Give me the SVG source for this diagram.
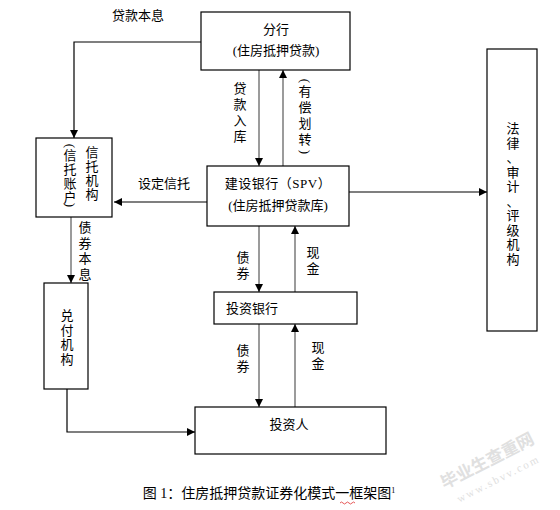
<svg xmlns="http://www.w3.org/2000/svg" width="560" height="510" viewBox="0 0 560 510">
<defs>
<style>
.box{fill:#fff;stroke:#000;stroke-width:1.2}
.t{font-family:"Liberation Serif","Noto Sans CJK SC",serif;font-size:13px;fill:#000;text-anchor:middle}
.k{stroke:#000;stroke-width:1.2;fill:none}
.g{stroke:#7a7a7a;stroke-width:1.5;fill:none}
.wm{font-family:"Noto Sans CJK SC",sans-serif;fill:#e0e0e0;text-anchor:middle}
</style>
<marker id="ah" viewBox="0 0 10 10" refX="10" refY="5" markerWidth="8" markerHeight="8" markerUnits="userSpaceOnUse" orient="auto">
<path d="M0,0 L10,5 L0,10 Z" fill="#000"/>
</marker>
</defs>
<rect width="560" height="510" fill="#fff"/>

<g id="connectors">
<polyline class="k" points="201,42 74,42 74,138" marker-end="url(#ah)"/>
<line class="g" x1="259" y1="70" x2="259" y2="166" marker-end="url(#ah)"/>
<line class="g" x1="283" y1="166" x2="283" y2="70" marker-end="url(#ah)"/>
<line class="k" x1="207" y1="202" x2="114" y2="202" marker-end="url(#ah)"/>
<line class="k" x1="349" y1="192" x2="487" y2="192" marker-end="url(#ah)"/>
<line class="g" x1="259" y1="226" x2="259" y2="292" marker-end="url(#ah)"/>
<line class="g" x1="295" y1="292" x2="295" y2="226" marker-end="url(#ah)"/>
<line class="g" x1="259" y1="324" x2="259" y2="407" marker-end="url(#ah)"/>
<line class="g" x1="295" y1="407" x2="295" y2="324" marker-end="url(#ah)"/>
<line class="g" x1="71" y1="217" x2="71" y2="283" marker-end="url(#ah)"/>
<polyline class="k" points="67,389 67,432 195,432" marker-end="url(#ah)"/>
</g>

<g id="labels">
<text class="t" x="138" y="20">贷款本息</text>
<text class="t" x="240" y="93"><tspan x="240">贷</tspan><tspan x="240" dy="16">款</tspan><tspan x="240" dy="16">入</tspan><tspan x="240" dy="16">库</tspan></text>
<text class="t" x="305" y="85" transform="rotate(90 305 81)">(</text>
<text class="t" x="305" y="96"><tspan x="305">有</tspan><tspan x="305" dy="16">偿</tspan><tspan x="305" dy="16">划</tspan><tspan x="305" dy="16">转</tspan></text>
<text class="t" x="305" y="156" transform="rotate(90 305 152)">)</text>
<text class="t" x="164" y="188">设定信托</text>
<text class="t" x="85" y="232"><tspan x="85">债</tspan><tspan x="85" dy="15.5">券</tspan><tspan x="85" dy="15.5">本</tspan><tspan x="85" dy="15.5">息</tspan></text>
<text class="t" x="243" y="262"><tspan x="243">债</tspan><tspan x="243" dy="15.5">券</tspan></text>
<text class="t" x="313" y="257"><tspan x="313">现</tspan><tspan x="313" dy="15.5">金</tspan></text>
<text class="t" x="243" y="355"><tspan x="243">债</tspan><tspan x="243" dy="16">券</tspan></text>
<text class="t" x="318" y="352"><tspan x="318">现</tspan><tspan x="318" dy="16">金</tspan></text>
</g>

<g id="node-fenhang">
<rect class="box" x="201" y="12" width="149" height="58"/>
<text class="t" x="276" y="34">分行</text>
<text class="t" x="276" y="55">(住房抵押贷款)</text>
</g>

<g id="node-xintuo">
<rect class="box" x="36" y="138" width="76" height="79"/>
<text class="t" x="92" y="157"><tspan x="92">信</tspan><tspan x="92" dy="14">托</tspan><tspan x="92" dy="14">机</tspan><tspan x="92" dy="14">构</tspan></text>
<text class="t" x="70" y="150" transform="rotate(90 70 146)">(</text>
<text class="t" x="70" y="160"><tspan x="70">信</tspan><tspan x="70" dy="14">托</tspan><tspan x="70" dy="14">账</tspan><tspan x="70" dy="14">户</tspan></text>
<text class="t" x="70" y="209" transform="rotate(90 70 205)">)</text>
</g>

<g id="node-spv">
<rect class="box" x="207" y="166" width="142" height="60"/>
<text class="t" x="278" y="188" style="letter-spacing:0.5px">建设银行（SPV）</text>
<text class="t" x="278" y="210">(住房抵押贷款库)</text>
</g>

<g id="node-falv">
<rect class="box" x="487" y="49" width="50" height="282"/>
<text class="t" x="513" y="133"><tspan x="513">法</tspan><tspan x="513" dy="14.5">律</tspan><tspan x="513" dy="14.5">、</tspan><tspan x="513" dy="14.5">审</tspan><tspan x="513" dy="14.5">计</tspan><tspan x="513" dy="14.5">、</tspan><tspan x="513" dy="14.5">评</tspan><tspan x="513" dy="14.5">级</tspan><tspan x="513" dy="14.5">机</tspan><tspan x="513" dy="14.5">构</tspan></text>
</g>

<g id="node-touzi-bank">
<rect class="box" x="214" y="292" width="143" height="32"/>
<text class="t" x="252" y="313">投资银行</text>
</g>

<g id="node-duifu">
<rect class="box" x="44" y="283" width="44" height="106"/>
<text class="t" x="67" y="320"><tspan x="67">兑</tspan><tspan x="67" dy="14.5">付</tspan><tspan x="67" dy="14.5">机</tspan><tspan x="67" dy="14.5">构</tspan></text>
</g>

<g id="node-touziren">
<rect class="box" x="195" y="407" width="191" height="47"/>
<text class="t" x="289" y="429">投资人</text>
</g>

<g id="caption">
<text class="t" x="269" y="498" style="font-size:14px">图 1：住房抵押贷款证券化模式一框架图<tspan style="font-size:8px" dy="-5">1</tspan></text>
<path d="M340,503 q1.5,-2 3,0 t3,0 t3,0 t3,0 t3,0" stroke="#e03030" stroke-width="0.8" fill="none"/>
</g>

<g id="watermark">
<text class="wm" x="490" y="466" style="font-size:17px;font-weight:bold" transform="rotate(-27 490 466)">毕业生查重网</text>
<text class="wm" x="500" y="482" style="font-size:11px;font-family:'Liberation Serif',serif;letter-spacing:2px" transform="rotate(-27 500 482)">www.sbvv.com</text>
</g>
</svg>
